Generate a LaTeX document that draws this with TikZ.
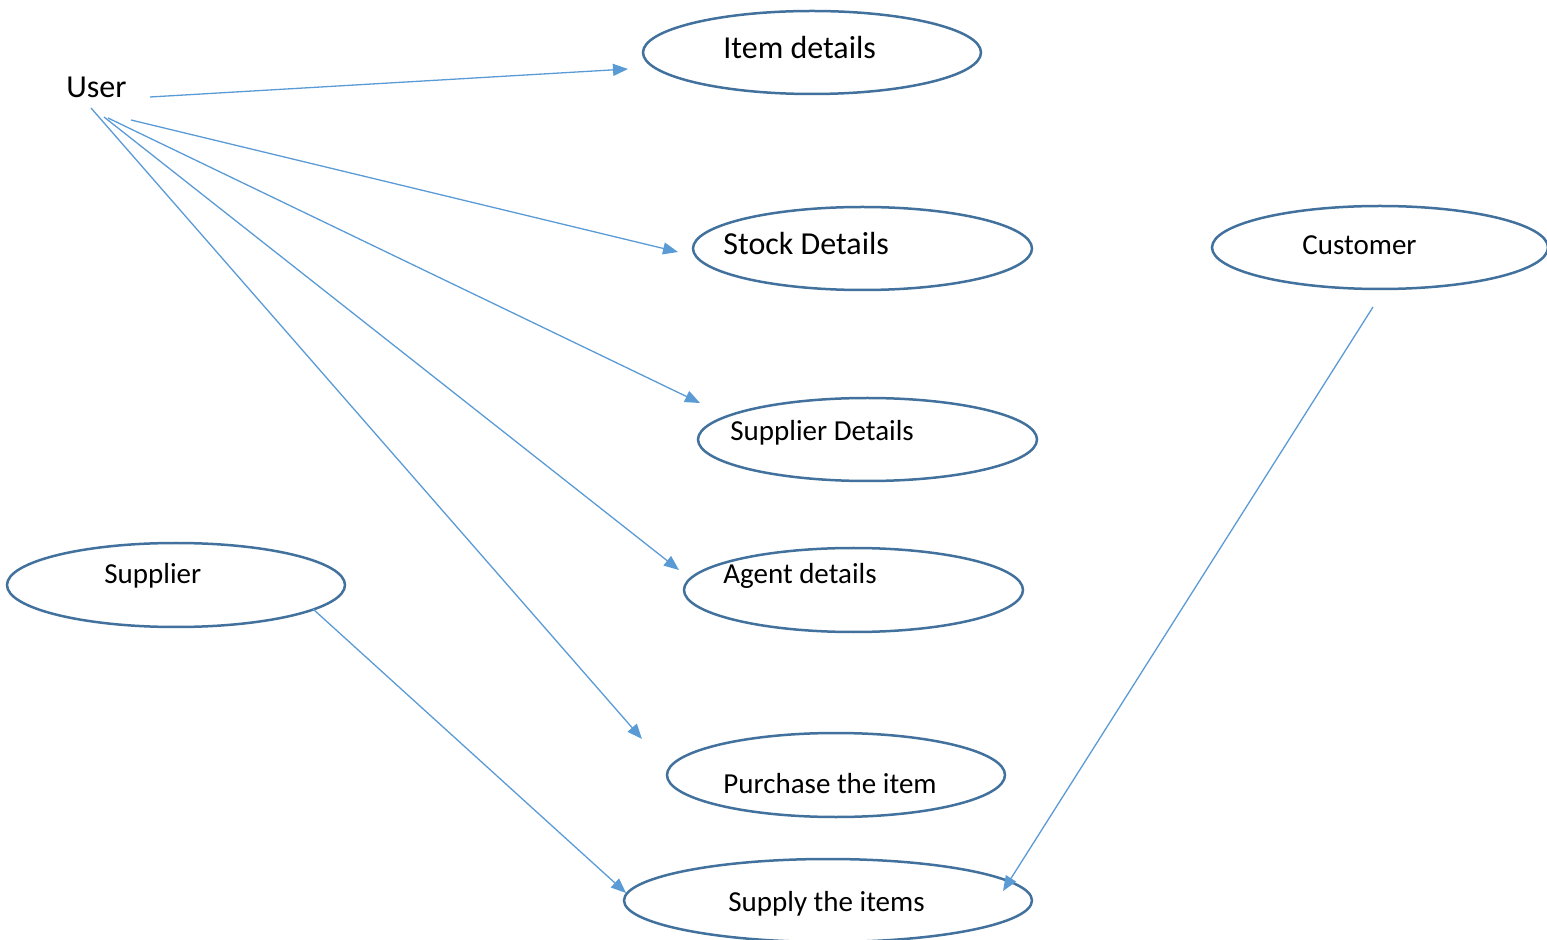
\documentclass[tikz,border=0pt]{standalone}
\usepackage{fontspec}
\setmainfont{Carlito}
\usetikzlibrary{shapes.geometric,arrows.meta}
\definecolor{ovalline}{HTML}{41719C}
\definecolor{linkline}{HTML}{5B9BD5}
\tikzset{
  usecase/.style={ellipse, draw=ovalline, line width=1.25pt, inner sep=0pt},
  lbl/.style={anchor=base west, inner sep=0pt, text=black, font=\fontsize{14.5}{17}\selectfont},
  biglbl/.style={lbl, font=\fontsize{16}{19}\selectfont},
  link/.style={draw=linkline, line width=0.65pt, -{Triangle[length=7.5pt,width=6pt]}}
}
\begin{document}
\begin{tikzpicture}[x=0.5pt, y=-0.5pt]
\useasboundingbox (0,0) rectangle (1547,940);

% use-case ovals (sizes in pt: one picture unit is half a point)
\node[usecase, minimum width=169pt,   minimum height=41.5pt] (item)     at (812,52.5)    {};
\node[usecase, minimum width=169.5pt, minimum height=41.5pt] (stock)    at (862.5,248.5) {};
\node[usecase, minimum width=168pt,   minimum height=41.5pt] (customer) at (1380,247.5)  {};
\node[usecase, minimum width=169.5pt, minimum height=41.5pt] (supdet)   at (867.5,439.5) {};
\node[usecase, minimum width=169.5pt, minimum height=42pt]   (agent)    at (853.5,590)   {};
\node[usecase, minimum width=169pt,   minimum height=42pt]   (purchase) at (836,775)     {};
\node[usecase, minimum width=204pt,   minimum height=41.5pt] (supply)   at (828,900.5)   {};
\node[usecase, minimum width=169pt,   minimum height=42pt]   (supplier) at (176,585)     {};

% labels
\node[biglbl] (tuser)     at (66,98)    {User};
\node[biglbl] (titem)     at (723,59)   {Item details};
\node[biglbl] (tstock)    at (723,255)  {Stock Details};
\node[lbl]    (tcustomer) at (1302,255) {Customer};
\node[lbl]    (tsupdet)   at (730,441)  {Supplier Details};
\node[lbl]    (tagent)    at (723,583)  {Agent details};
\node[lbl]    (tpurchase) at (723,793)  {Purchase the item};
\node[lbl]    (tsupply)   at (728,911)  {Supply the items};
\node[lbl]    (tsupplier) at (104,583)  {Supplier};

% connector end points
\coordinate (u1) at (150,97);   \coordinate (e1) at (628,69);
\coordinate (u2) at (131,120);  \coordinate (e2) at (678,252);
\coordinate (u3) at (108,118);  \coordinate (e3) at (700,403);
\coordinate (u4) at (104,117);  \coordinate (e4) at (679,570);
\coordinate (u5) at (91,108);   \coordinate (e5) at (642,739);
\coordinate (s1) at (313,609);  \coordinate (e6) at (626,893);
\coordinate (c1) at (1373,307); \coordinate (e7) at (1003,891);

% connectors
\draw[link] (u1) -- (e1);
\draw[link] (u2) -- (e2);
\draw[link] (u3) -- (e3);
\draw[link] (u4) -- (e4);
\draw[link] (u5) -- (e5);
\draw[link] (s1) -- (e6);
\draw[link] (c1) -- (e7);
\end{tikzpicture}
\end{document}
